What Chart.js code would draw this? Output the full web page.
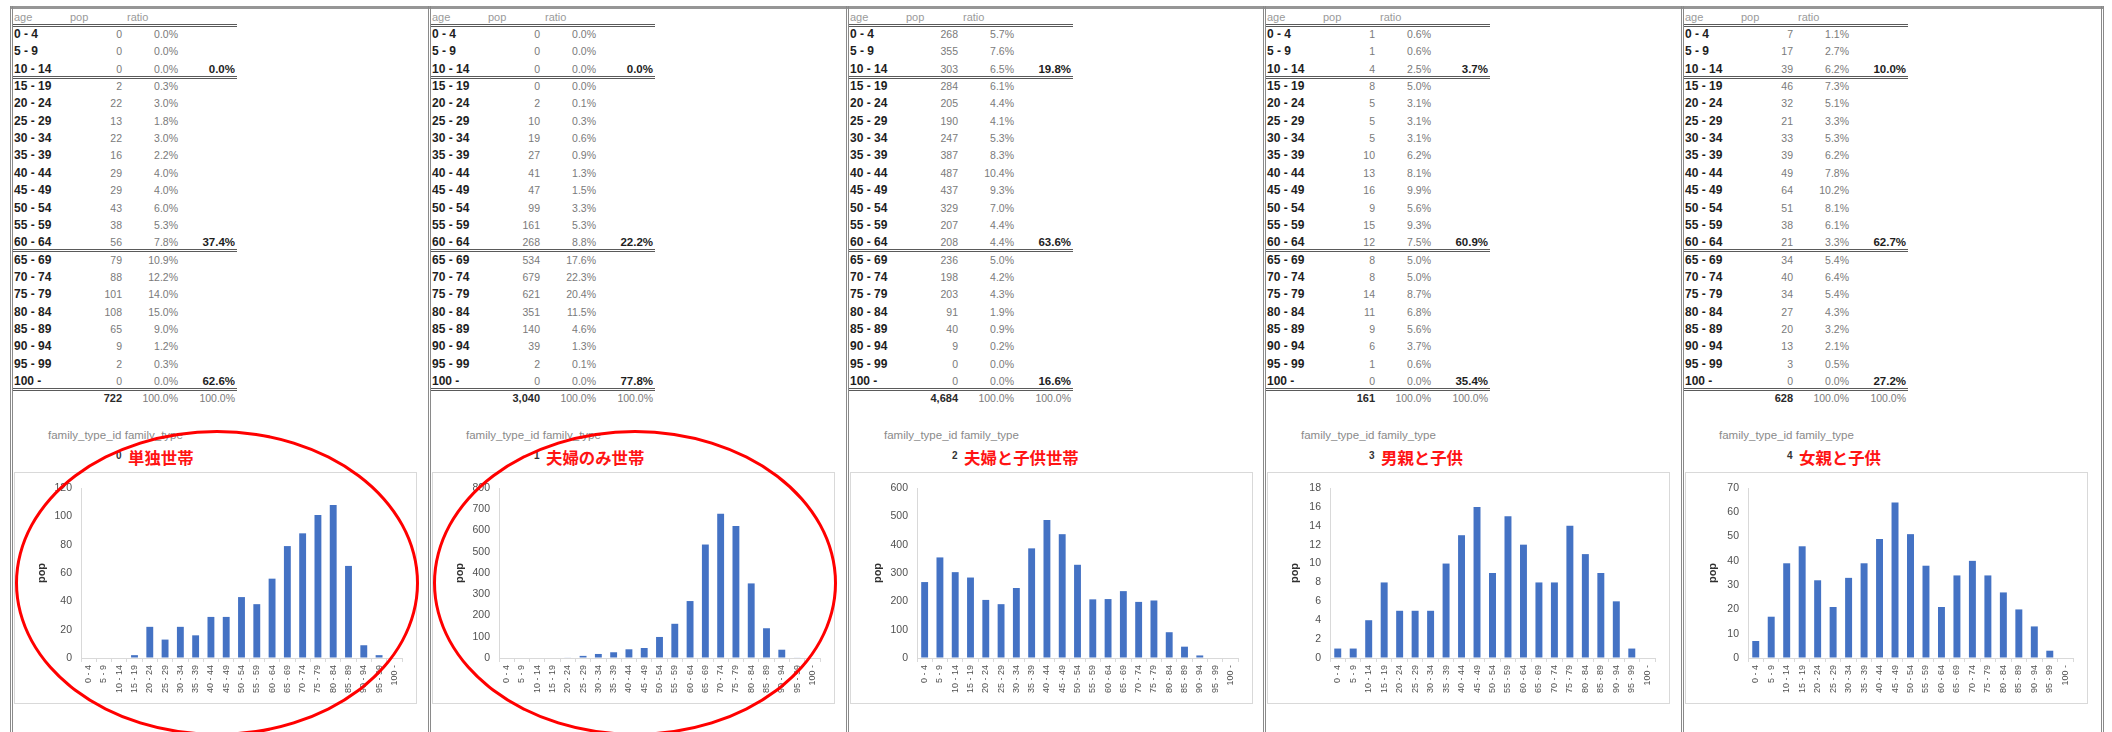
<!DOCTYPE html>
<html>
<head>
<meta charset="utf-8">
<title>family_type 別 年齢階級人口</title>
<script src="https://cdn.jsdelivr.net/npm/chart.js@4/dist/chart.umd.min.js"></script>
<style>
  html, body { margin: 0; padding: 0; background: #ffffff; }
  body { width: 2112px; height: 732px; position: relative; overflow: hidden;
         font-family: 'Liberation Sans', Arial, sans-serif; }
  .abs { position: absolute; white-space: nowrap; }
  .rule { position: absolute; height: 1px; border-top: 1px solid #5a5a5a; border-bottom: 1px solid #5a5a5a; }
  .frame { position: absolute; box-sizing: border-box; border: 1px solid #d9d9d9; background: #fff; }
  .ring { position: absolute; box-sizing: border-box; border: 3px solid #ff0000; border-radius: 50%; pointer-events: none; }
</style>
</head>
<body>
<div id="sheet"></div>
<script>
// ---- data ----------------------------------------------------------
const ageGroups = ['0 - 4', '5 - 9', '10 - 14', '15 - 19', '20 - 24', '25 - 29', '30 - 34',
  '35 - 39', '40 - 44', '45 - 49', '50 - 54', '55 - 59', '60 - 64', '65 - 69', '70 - 74',
  '75 - 79', '80 - 84', '85 - 89', '90 - 94', '95 - 99', '100 -'];

const familyTypeIds = [0, 1, 2, 3, 4];
const familyTypes = ['単独世帯', '夫婦のみ世帯', '夫婦と子供世帯', '男親と子供', '女親と子供'];

const popSingle         = [0, 0, 0, 2, 22, 13, 22, 16, 29, 29, 43, 38, 56, 79, 88, 101, 108, 65, 9, 2, 0];
const popCoupleOnly     = [0, 0, 0, 0, 2, 10, 19, 27, 41, 47, 99, 161, 268, 534, 679, 621, 351, 140, 39, 2, 0];
const popCoupleChildren = [268, 355, 303, 284, 205, 190, 247, 387, 487, 437, 329, 207, 208, 236, 198, 203, 91, 40, 9, 0, 0];
const popFatherChildren = [1, 1, 4, 8, 5, 5, 5, 10, 13, 16, 9, 15, 12, 8, 8, 14, 11, 9, 6, 1, 0];
const popMotherChildren = [7, 17, 39, 46, 32, 21, 33, 39, 49, 64, 51, 38, 21, 34, 40, 34, 27, 20, 13, 3, 0];

const yAxisMax  = [120, 800, 600, 18, 70];
const yAxisStep = [20, 100, 100, 2, 10];

// age bands 0-14 / 15-64 / 65+
const bandEnds = [2, 12, 20];

const populations = [popSingle, popCoupleOnly, popCoupleChildren, popFatherChildren, popMotherChildren];

// ---- layout --------------------------------------------------------
const panelLeft = [10, 428, 846, 1263, 1681];
const panelRight = 2101;
const plotLeftOffset = [71, 71, 71, 67, 67];
const rowTop = 34, rowStep = 17.35;
const ellipsePanels = [0, 1];

const sheet = document.getElementById('sheet');
Chart.defaults.font.family = "'Liberation Sans', Arial, sans-serif";

function el(tag, cls, css, text) {
  const d = document.createElement(tag);
  if (cls) d.className = cls;
  Object.assign(d.style, css);
  if (text !== undefined) d.textContent = text;
  sheet.appendChild(d);
  return d;
}
function pct(v, total) { return (v / total * 100).toFixed(1) + '%'; }

// outer frame: top rule and panel dividers
el('div', '', { position: 'absolute', left: '10px', top: '6px', width: (panelRight - 10 + 2) + 'px',
  height: '3px', background: '#969696' });
panelLeft.concat([panelRight]).forEach(x => {
  el('div', '', { position: 'absolute', left: x + 'px', top: '6px', width: '1px', height: '726px',
    borderLeft: '1px solid #8a8a8a', borderRight: '1px solid #8a8a8a' });
});

function rightCell(x, right, cy, text, css) {
  el('div', 'abs', Object.assign({ left: (x + right - 80) + 'px', width: '80px', textAlign: 'right',
    top: (cy - 8) + 'px', height: '16px', lineHeight: '16px' }, css), text);
}

familyTypeIds.forEach((id, k) => {
  const x = panelLeft[k];
  const pop = populations[k];
  const total = pop.reduce((a, b) => a + b, 0);

  // table header
  const hdr = { top: '9px', height: '16px', lineHeight: '16px', fontSize: '11px', color: '#9a9a9a' };
  el('div', 'abs', Object.assign({ left: (x + 4) + 'px' }, hdr), 'age');
  el('div', 'abs', Object.assign({ left: (x + 60) + 'px' }, hdr), 'pop');
  el('div', 'abs', Object.assign({ left: (x + 117) + 'px' }, hdr), 'ratio');

  const rule = y => el('div', 'rule', { left: (x + 3) + 'px', width: '224px', top: (y - 1.5) + 'px' });
  rule(25);

  // table rows
  let bandStart = 0;
  ageGroups.forEach((age, i) => {
    const cy = rowTop + i * rowStep;
    el('div', 'abs', { left: (x + 4) + 'px', top: (cy - 8) + 'px', height: '16px', lineHeight: '16px',
      fontSize: '12px', fontWeight: 'bold', color: '#1e1e1e' }, age);
    rightCell(x, 112, cy, String(pop[i]), { fontSize: '10.5px', color: '#7a7a7a' });
    rightCell(x, 168, cy, pct(pop[i], total), { fontSize: '10.5px', color: '#7a7a7a' });
    if (bandEnds.includes(i)) {
      const bandSum = pop.slice(bandStart, i + 1).reduce((a, b) => a + b, 0);
      rightCell(x, 225, cy, pct(bandSum, total), { fontSize: '11.5px', fontWeight: 'bold', color: '#1e1e1e' });
      rule(cy + rowStep / 2);
      bandStart = i + 1;
    }
  });

  // totals
  const ty = rowTop + ageGroups.length * rowStep;
  rightCell(x, 112, ty, total.toLocaleString('en-US'), { fontSize: '11px', fontWeight: 'bold', color: '#2a2a2a' });
  rightCell(x, 168, ty, '100.0%', { fontSize: '10.5px', color: '#7a7a7a' });
  rightCell(x, 225, ty, '100.0%', { fontSize: '10.5px', color: '#7a7a7a' });

  // caption and title
  el('div', 'abs', { left: (x + 38) + 'px', top: '428px', height: '14px', lineHeight: '14px',
    fontSize: '11.5px', color: '#8a8a8a' }, 'family_type_id family_type');
  el('div', 'abs', { left: (x + 106) + 'px', top: '449px', height: '14px', lineHeight: '14px',
    fontSize: '10px', fontWeight: 'bold', color: '#333' }, String(id));
  el('div', 'abs', { left: (x + 118) + 'px', top: '447px', height: '20px', lineHeight: '20px',
    fontSize: '16.4px', fontWeight: 'bold', color: '#ff1414',
    fontFamily: "'Noto Sans CJK JP', 'Noto Sans CJK SC', sans-serif" }, familyTypes[k]);

  // chart
  const fx = x + 4, fy = 472, fw = 403, fh = 232;
  el('div', 'frame', { left: fx + 'px', top: fy + 'px', width: fw + 'px', height: fh + 'px' });
  const canvas = el('canvas', '', { position: 'absolute', left: fx + 'px', top: fy + 'px' });
  canvas.width = fw; canvas.height = fh;
  const yWidth = plotLeftOffset[k] - 4;

  new Chart(canvas, {
    type: 'bar',
    data: {
      labels: ageGroups,
      datasets: [{ label: 'pop', data: pop, backgroundColor: '#4472C4',
        barPercentage: 0.9, categoryPercentage: 0.5 }]
    },
    options: {
      responsive: false,
      animation: false,
      layout: { padding: { top: 16, right: 15, left: 0, bottom: 0 } },
      plugins: { legend: { display: false }, tooltip: { enabled: false } },
      scales: {
        x: {
          grid: { display: true, drawOnChartArea: false, tickLength: 4, color: '#d9d9d9' },
          border: { color: '#d9d9d9' },
          ticks: { autoSkip: false, minRotation: 90, maxRotation: 90, padding: 3,
            font: { size: 9 }, color: '#505050' },
          afterFit: s => { s.height = 46; }
        },
        y: {
          min: 0, max: yAxisMax[k],
          ticks: { stepSize: yAxisStep[k], padding: 9, font: { size: 10.5 }, color: '#505050' },
          grid: { display: true, drawOnChartArea: false, drawTicks: false, color: '#d9d9d9' },
          border: { color: '#d9d9d9' },
          title: { display: true, text: 'pop', color: '#303030',
            font: { size: 11, weight: 'bold' }, padding: { top: 21, bottom: 0 } },
          afterFit: s => { s.width = yWidth; }
        }
      }
    }
  });
});

// highlight rings around the first two panels
ellipsePanels.forEach(k => {
  const cx = panelLeft[k] + 207, cy = 583, rx = 202, ry = 153;
  el('div', 'ring', { left: (cx - rx) + 'px', top: (cy - ry) + 'px',
    width: (2 * rx) + 'px', height: (2 * ry) + 'px' });
});
</script>
</body>
</html>
